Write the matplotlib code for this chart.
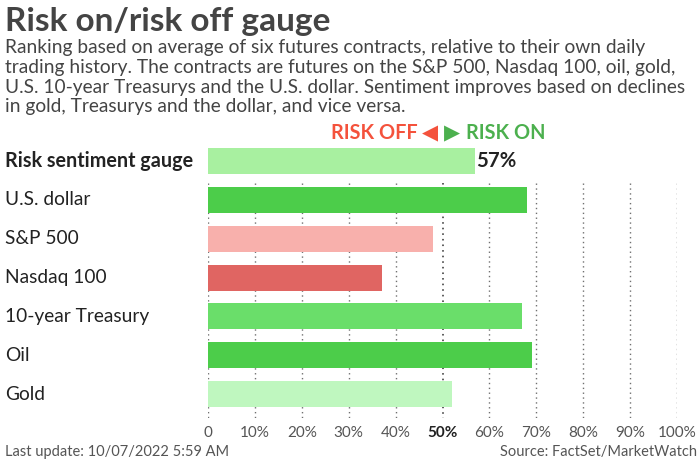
import matplotlib.pyplot as plt
from matplotlib.transforms import blended_transform_factory

plt.rcParams['font.family'] = ['Lato', 'DejaVu Sans']

categories = ['Risk sentiment gauge', 'U.S. dollar', 'S&P 500', 'Nasdaq 100',
              '10-year Treasury', 'Oil', 'Gold']
values = [57, 68, 48, 37, 67, 69, 52]
colors = ['#a8f0a0', '#4ccd4a', '#f8b0ac', '#e06562', '#6ade6a', '#4ccd4a', '#bff7bf']
tick_values = [0, 10, 20, 30, 40, 50, 60, 70, 80, 90, 100]
tick_labels = ['0', '10%', '20%', '30%', '40%', '50%', '60%', '70%', '80%', '90%', '100%']
subtitle_lines = [
    'Ranking based on average of six futures contracts, relative to their own daily',
    'trading history. The contracts are futures on the S&P 500, Nasdaq 100, oil, gold,',
    'U.S. 10-year Treasurys and the U.S. dollar. Sentiment improves based on declines',
    'in gold, Treasurys and the dollar, and vice versa.',
]

fig = plt.figure(figsize=(7, 4.62), dpi=100)
ax = fig.add_axes([208 / 700, 1 - 418 / 462, (677 - 208) / 700, (418 - 141) / 462])

rows = list(range(len(categories)))
ax.barh(rows, values, height=0.67, color=colors, zorder=3)

# dotted gridlines, starting below the gauge bar
for t in tick_values:
    c = '#3a3a3a' if t == 50 else '#707070'
    lw = 1.15 if t == 50 else 1.0
    ax.vlines(t, 0.56, 6.62, colors=c, linestyles=(0, (1, 2.5)), linewidth=lw, zorder=1)

ax.set_xlim(0, 100)
ax.set_ylim(6.615, -0.515)
ax.set_xticks(tick_values)
ax.set_xticklabels(tick_labels, fontsize=11, color='#555555')
ax.tick_params(axis='x', length=0, pad=6)
ax.get_xticklabels()[5].set_color('#222222')
ax.get_xticklabels()[5].set_fontweight('bold')
ax.set_yticks([])
for s in ax.spines.values():
    s.set_visible(False)

# row labels on the left
tr = blended_transform_factory(fig.transFigure, ax.transData)
for i, name in enumerate(categories):
    ax.text(5 / 700, i, name, transform=tr, ha='left', va='center',
            fontsize=14.2 if i == 0 else 13.8, color='#222222',
            fontweight='bold' if i == 0 else 'normal')

ax.text(values[0] + 0.2, 0, f'{values[0]}%', ha='left', va='center',
        fontsize=14.6, fontweight='bold', color='#222222')

# risk off / risk on header
hy = -0.72
red, green = '#f4523c', '#4cb04e'
ax.text(44.8, hy, 'RISK OFF', ha='right', va='center', fontsize=14.3,
        fontweight='bold', color=red, clip_on=False)
ax.text(47.4, hy, '\u25C0', ha='center', va='center', fontsize=15,
        color=red, clip_on=False, family='DejaVu Sans')
ax.text(52.0, hy, '\u25B6', ha='center', va='center', fontsize=15,
        color=green, clip_on=False, family='DejaVu Sans')
ax.text(55.0, hy, 'RISK ON', ha='left', va='center', fontsize=14.3,
        fontweight='bold', color=green, clip_on=False)

fig.text(5 / 700, 1 - 21 / 462, 'Risk on/risk off gauge', ha='left', va='center',
         fontsize=24, fontweight='bold', color='#444444')
for k, line in enumerate(subtitle_lines):
    fig.text(5 / 700, 1 - (53.3 + 19.7 * k) / 462, line, ha='left', va='baseline',
             fontsize=13.8, color='#444444')

fig.text(5 / 700, 1 - 452 / 462, 'Last update: 10/07/2022 5:59 AM', ha='left',
         va='center', fontsize=10.5, color='#555555')
fig.text(697 / 700, 1 - 452 / 462, 'Source: FactSet/MarketWatch', ha='right',
         va='center', fontsize=10.5, color='#555555')

fig.savefig('out.png', dpi=100)
